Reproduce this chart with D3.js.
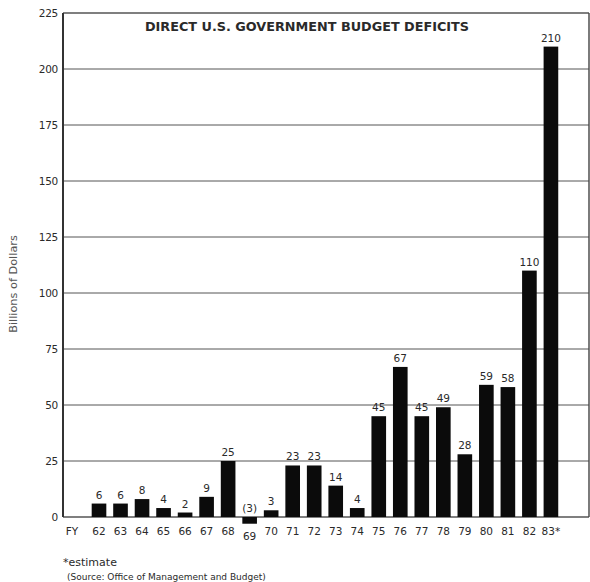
<!DOCTYPE html>
<html>
<head>
<meta charset="utf-8">
<script src="https://cdn.jsdelivr.net/npm/d3@7"></script>
<style>
  body { margin: 0; background: #fff; }
  svg text { font-family: "DejaVu Sans", sans-serif; fill: #2a2a2a; }
</style>
</head>
<body>
<div id="chart"></div>
<script>
const years = ["62", "63", "64", "65", "66", "67", "68", "69", "70", "71", "72",
               "73", "74", "75", "76", "77", "78", "79", "80", "81", "82", "83"];
const deficits = [6, 6, 8, 4, 2, 9, 25, -3, 3, 23, 23, 14, 4, 45, 67, 45, 49, 28, 59, 58, 110, 210];
const valueLabels = ["6", "6", "8", "4", "2", "9", "25", "(3)", "3", "23", "23", "14", "4",
                     "45", "67", "45", "49", "28", "59", "58", "110", "210"];
const yearLabels = ["62", "63", "64", "65", "66", "67", "68", "69", "70", "71", "72",
                    "73", "74", "75", "76", "77", "78", "79", "80", "81", "82", "83*"];
const yTicks = [0, 25, 50, 75, 100, 125, 150, 175, 200, 225];

const width = 590;
const height = 582;
const plotLeft = 63, plotRight = 589, plotTop = 13, zeroY = 517;

const svg = d3.select('#chart').append('svg')
    .attr('width', width)
    .attr('height', height);

const y = d3.scaleLinear().domain([0, 225]).range([zeroY, plotTop]);
const step = 21.52;
const x = d3.scaleBand()
    .domain(years)
    .range([99 - step / 2, 99 + step * 21 + step / 2])
    .paddingInner(0.32)
    .paddingOuter(0.16);

// gridlines
svg.append('g').selectAll('line')
    .data(yTicks)
    .enter()
    .append('line')
    .attr('x1', plotLeft)
    .attr('x2', plotRight)
    .attr('y1', d => y(d))
    .attr('y2', d => y(d))
    .attr('stroke', '#555')
    .attr('stroke-width', d => d === 0 || d === 225 ? 1.4 : 1);

// y tick labels
svg.append('g').selectAll('text')
    .data(yTicks)
    .enter()
    .append('text')
    .attr('x', 58)
    .attr('y', d => y(d) + 3.8)
    .attr('text-anchor', 'end')
    .style('font-size', '10.5px')
    .style('letter-spacing', '-0.3px')
    .text(d => d);

// frame: left axis and right edge
svg.append('line')
    .attr('x1', plotLeft).attr('x2', plotLeft)
    .attr('y1', plotTop).attr('y2', zeroY)
    .attr('stroke', '#333').attr('stroke-width', 2);
svg.append('line')
    .attr('x1', plotRight).attr('x2', plotRight)
    .attr('y1', plotTop).attr('y2', zeroY)
    .attr('stroke', '#444').attr('stroke-width', 1.4);

// bars
svg.append('g').selectAll('rect')
    .data(deficits)
    .enter()
    .append('rect')
    .attr('x', (d, i) => x(years[i]))
    .attr('width', x.bandwidth())
    .attr('y', d => d >= 0 ? y(d) : y(0))
    .attr('height', d => Math.abs(y(d) - y(0)))
    .attr('fill', '#0b0b0b');

// value labels above bars
svg.append('g').selectAll('text')
    .data(deficits)
    .enter()
    .append('text')
    .attr('x', (d, i) => x(years[i]) + x.bandwidth() / 2)
    .attr('y', d => d >= 0 ? y(d) - 5 : y(0) - 5)
    .attr('text-anchor', 'middle')
    .style('font-size', '10.5px')
    .text((d, i) => valueLabels[i]);

// year labels
svg.append('g').selectAll('text')
    .data(years)
    .enter()
    .append('text')
    .attr('x', d => x(d) + x.bandwidth() / 2)
    .attr('y', (d, i) => deficits[i] < 0 ? 540 : 535)
    .attr('text-anchor', 'middle')
    .style('font-size', '10.5px')
    .text((d, i) => yearLabels[i]);

svg.append('text')
    .attr('x', 72).attr('y', 535)
    .attr('text-anchor', 'middle')
    .style('font-size', '10.5px')
    .text('FY');

// title
svg.append('text')
    .attr('x', 307).attr('y', 31)
    .attr('text-anchor', 'middle')
    .style('font-size', '12.8px')
    .style('font-weight', 'bold')
    .text('DIRECT U.S. GOVERNMENT BUDGET DEFICITS');

// y axis title
svg.append('text')
    .attr('transform', 'translate(17,284) rotate(-90)')
    .attr('text-anchor', 'middle')
    .style('font-size', '11.3px')
    .style('fill', '#555')
    .text('Billions of Dollars');

// footnotes
svg.append('text')
    .attr('x', 63).attr('y', 566)
    .style('font-size', '11px')
    .text('*estimate');
svg.append('text')
    .attr('x', 67).attr('y', 580)
    .style('font-size', '9px')
    .text('(Source: Office of Management and Budget)');
</script>
</body>
</html>
